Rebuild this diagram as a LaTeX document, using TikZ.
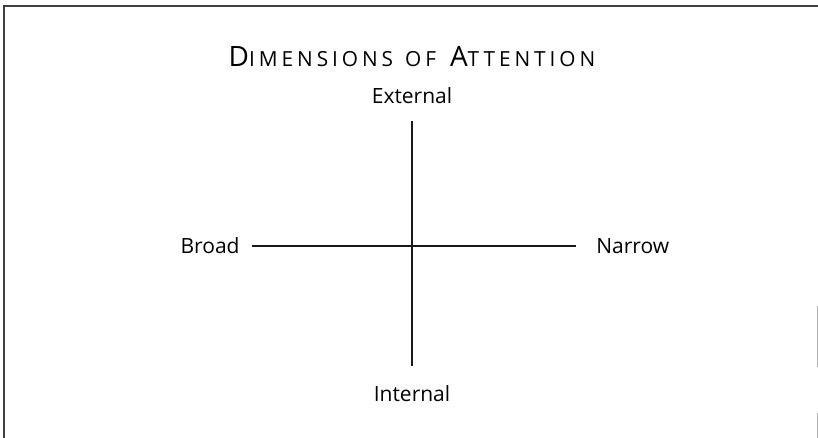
\documentclass[tikz,border=0pt]{standalone}
\usepackage{fontspec}
\setmainfont{Open Sans}
\usetikzlibrary{positioning}

\tikzset{
  axis/.style={line width=1pt, black!90},
  framing/.style={line width=0.9pt, black!75},
  lbl/.style={inner sep=0pt, font=\fontsize{10.5}{12}\selectfont, anchor=base},
}
\newcommand{\bigsc}[1]{{\fontsize{14}{16}\selectfont #1}}
\newcommand{\smallsc}[1]{{\fontsize{10.4}{12}\selectfont\addfontfeature{LetterSpace=19}#1}}

\begin{document}
\begin{tikzpicture}[x=0.5pt,y=0.5pt]
    \useasboundingbox (-412,-192) rectangle (406,246);
    % frame
    \draw[framing] (-408,-192) -- (-408,240) -- (406,240);
    \draw[gray!60, line width=0.6pt] (405.5,-60) -- (405.5,-121);
    \draw[gray!60, line width=0.6pt] (405.5,-167) -- (405.5,-192);

    \node[lbl] (title) at (0,179)
      {\bigsc{D}\smallsc{IMENSIONS}\hspace{6pt}\smallsc{OF}\hspace{7pt}\bigsc{A}\smallsc{TTENTION}};

    % axes
    \coordinate (centre) at (0,0);
    \coordinate (topend) at (0,125);
    \coordinate (bottomend) at (0,-120);
    \coordinate (leftend) at (-160,0);
    \coordinate (rightend) at (164,0);
    \draw[axis] (topend) -- (bottomend);
    \draw[axis] (leftend) -- (rightend);

    \node[lbl] (external) at (0,142) {External};
    \node[lbl] (internal) at (0,-156) {Internal};
    \node[lbl, anchor=base east] (broad) at (-172,-8) {Broad};
    \node[lbl, anchor=base west] (narrow) at (184,-8) {Narrow};
  \end{tikzpicture}
\end{document}
